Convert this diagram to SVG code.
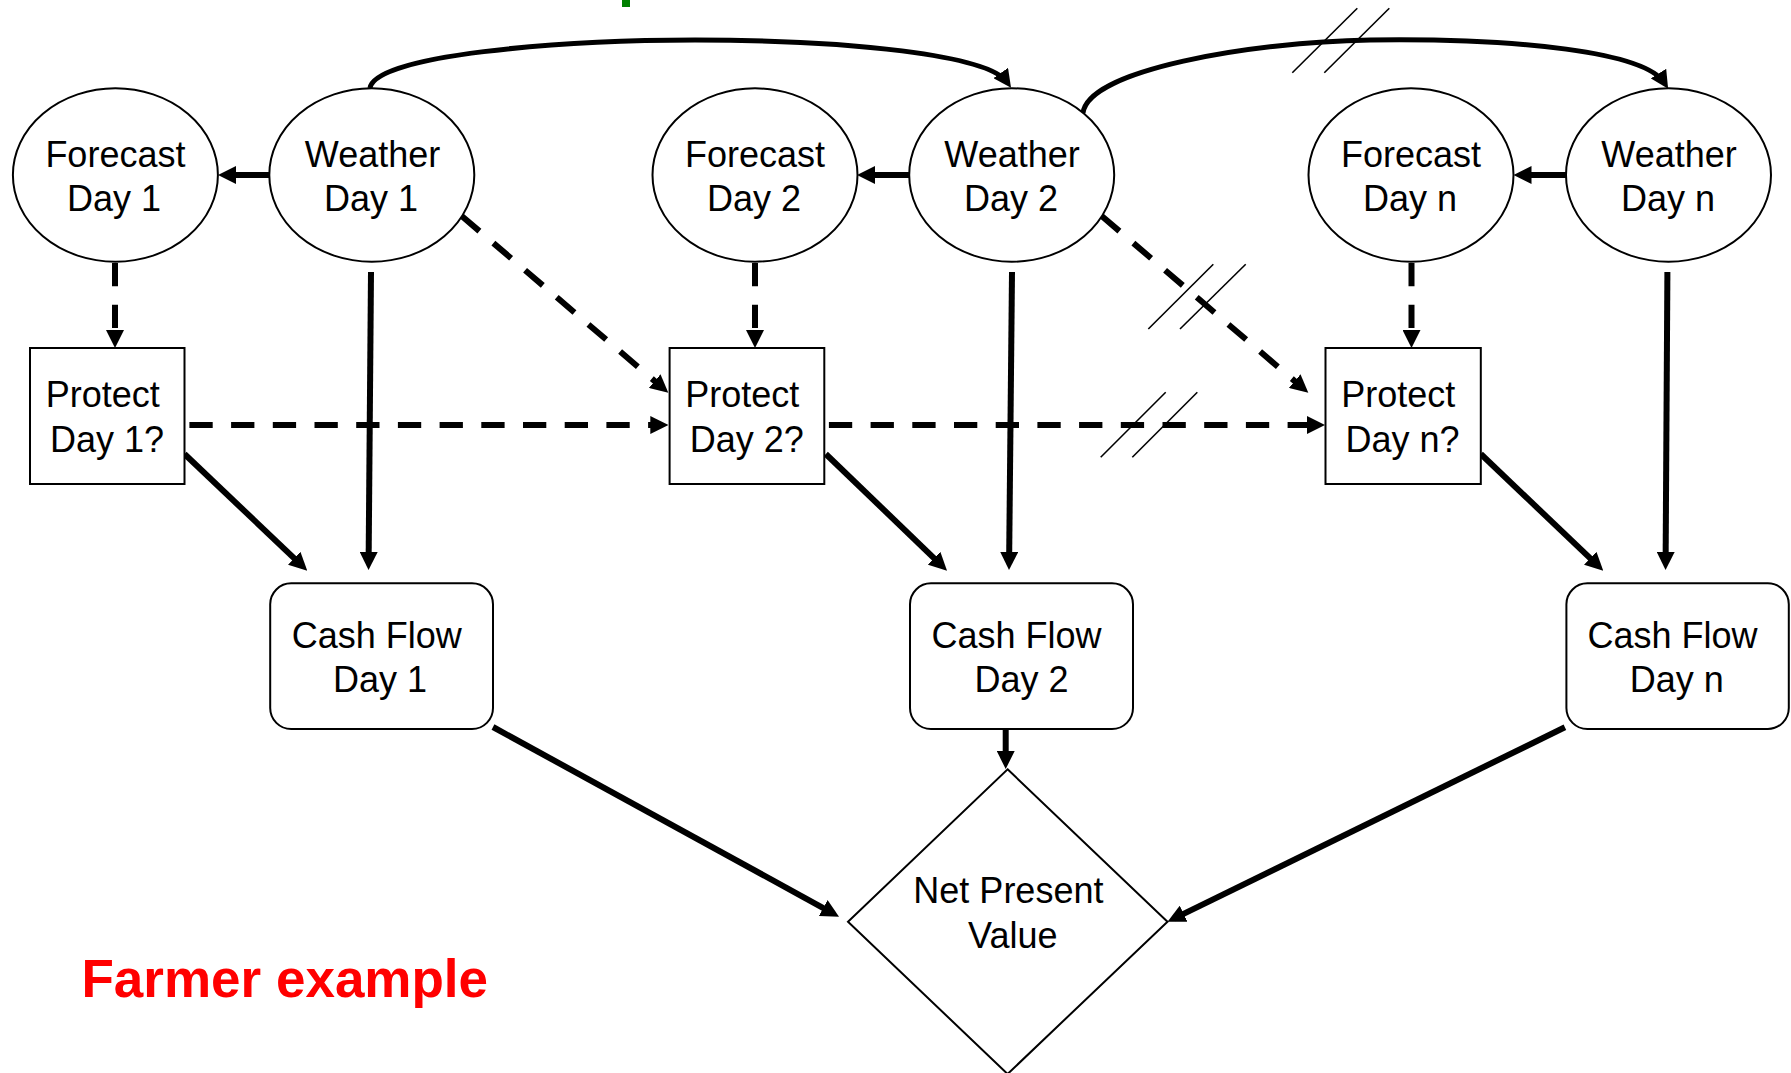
<svg xmlns="http://www.w3.org/2000/svg" width="1791" height="1073" viewBox="0 0 1791 1073">
<style>
.node{fill:#fff;stroke:#000;stroke-width:2}
.lbl{font-family:"Liberation Sans",Arial,sans-serif;font-size:36px;fill:#000;text-anchor:middle}
.c{fill:none;stroke:#000;stroke-width:6;marker-end:url(#ah)}
.d{stroke-dasharray:23.3 18.4}
.cv{fill:none;stroke:#000;stroke-width:5;marker-end:url(#ah)}
.brk{stroke:#000;stroke-width:1.6;fill:none}
</style>
<defs>
<marker id="ah" markerUnits="userSpaceOnUse" viewBox="0 0 18 18" markerWidth="18" markerHeight="18" refX="11" refY="9" orient="auto">
<path d="M0,0 L18,9 L0,18 z" fill="#000"/>
</marker>
</defs>
<rect width="1791" height="1073" fill="#fff"/>
<rect x="622" y="0" width="8" height="7" fill="#008000"/>

<g id="connectors">
<path class="c" d="M269,175 L225,175"/>
<path class="c" d="M909,175 L864,175"/>
<path class="c" d="M1566,175 L1520.5,175"/>
<path class="c d" d="M115,263 L115,341"/>
<path class="c d" d="M755,263 L755,341"/>
<path class="c d" d="M1411.5,263 L1411.5,341"/>
<path class="c d" d="M461.7,216 L663,388.2"/>
<path class="c d" d="M1101.7,216 L1303,388.2"/>
<path class="c d" d="M189.4,425 L661.3,425"/>
<path class="c d" d="M828.9,425 L1318,425"/>
<path class="c" d="M371,272 L368.6,563"/>
<path class="c" d="M1012,272 L1009.1,563"/>
<path class="c" d="M1667.4,272 L1665.6,563"/>
<path class="c" d="M184.5,454 L302.2,565.9"/>
<path class="c" d="M825.8,454 L942,565.8"/>
<path class="c" d="M1480.8,454 L1598.2,565.9"/>
<path class="c" d="M493,727 L832.9,913.3"/>
<path class="c" d="M1005.7,729 L1005.7,762"/>
<path class="c" d="M1564.9,727.3 L1173.8,918.6"/>
<path class="cv" d="M370,88 C375,55 560,40 695,40 C850,40 988,55 1007,82"/>
<path class="cv" d="M1083,113 C1088,70 1250,42 1370,40 C1520,38 1645,52 1664.4,82.9"/>
<line class="brk" x1="1292.3" y1="72.7" x2="1357.3" y2="8.3"/>
<line class="brk" x1="1324.3" y1="72.7" x2="1389.3" y2="8.3"/>
<line class="brk" x1="1148.3" y1="329" x2="1213.3" y2="264.3"/>
<line class="brk" x1="1180" y1="329" x2="1245.7" y2="264.3"/>
<line class="brk" x1="1100.7" y1="457.3" x2="1165.7" y2="392.3"/>
<line class="brk" x1="1132.3" y1="457.3" x2="1197.3" y2="392.3"/>
</g>

<g id="forecast1"><ellipse class="node" cx="115.4" cy="175" rx="102.5" ry="86.7"/><text class="lbl" x="115.4" y="166.7">Forecast</text><text class="lbl" x="114" y="210.7">Day 1</text></g>
<g id="weather1"><ellipse class="node" cx="371.8" cy="175" rx="102.5" ry="86.7"/><text class="lbl" x="372.5" y="166.7">Weather</text><text class="lbl" x="371" y="210.7">Day 1</text></g>
<g id="forecast2"><ellipse class="node" cx="755" cy="175" rx="102.5" ry="86.7"/><text class="lbl" x="755" y="166.7">Forecast</text><text class="lbl" x="754" y="210.7">Day 2</text></g>
<g id="weather2"><ellipse class="node" cx="1011.7" cy="175" rx="102.5" ry="86.7"/><text class="lbl" x="1012" y="166.7">Weather</text><text class="lbl" x="1011" y="210.7">Day 2</text></g>
<g id="forecastn"><ellipse class="node" cx="1411" cy="175" rx="102.5" ry="86.7"/><text class="lbl" x="1411" y="166.7">Forecast</text><text class="lbl" x="1410" y="210.7">Day n</text></g>
<g id="weathern"><ellipse class="node" cx="1668.5" cy="175" rx="102.5" ry="86.7"/><text class="lbl" x="1669" y="166.7">Weather</text><text class="lbl" x="1668" y="210.7">Day n</text></g>

<g id="protect1"><rect class="node" x="30" y="348" width="154.5" height="136"/><text class="lbl" x="102.7" y="407.3">Protect</text><text class="lbl" x="107" y="451.7">Day 1?</text></g>
<g id="protect2"><rect class="node" x="669.6" y="348" width="154.7" height="136"/><text class="lbl" x="742.2" y="407.3">Protect</text><text class="lbl" x="746.8" y="451.7">Day 2?</text></g>
<g id="protectn"><rect class="node" x="1325.5" y="348" width="155.3" height="136"/><text class="lbl" x="1398.3" y="407.3">Protect</text><text class="lbl" x="1402.6" y="451.7">Day n?</text></g>

<g id="cashflow1"><rect class="node" x="270.2" y="583.3" width="222.8" height="145.7" rx="21" ry="21"/><text class="lbl" x="376.7" y="647.7">Cash Flow</text><text class="lbl" x="380" y="691.7">Day 1</text></g>
<g id="cashflow2"><rect class="node" x="910" y="583.3" width="223" height="145.7" rx="21" ry="21"/><text class="lbl" x="1016.6" y="647.7">Cash Flow</text><text class="lbl" x="1021.5" y="691.7">Day 2</text></g>
<g id="cashflown"><rect class="node" x="1566.4" y="583.3" width="222.4" height="145.7" rx="21" ry="21"/><text class="lbl" x="1672.5" y="647.7">Cash Flow</text><text class="lbl" x="1676.8" y="691.7">Day n</text></g>

<g id="npv"><polygon class="node" points="1007.6,769.3 1167.5,921.7 1007.6,1074 848,921.7"/><text class="lbl" x="1008.4" y="903.3">Net Present</text><text class="lbl" x="1012.8" y="948.3">Value</text></g>

<g id="title"><text x="81.5" y="996.7" font-family="'Liberation Sans',Arial,sans-serif" font-size="53" font-weight="bold" fill="#ff0000">Farmer example</text></g>
</svg>
